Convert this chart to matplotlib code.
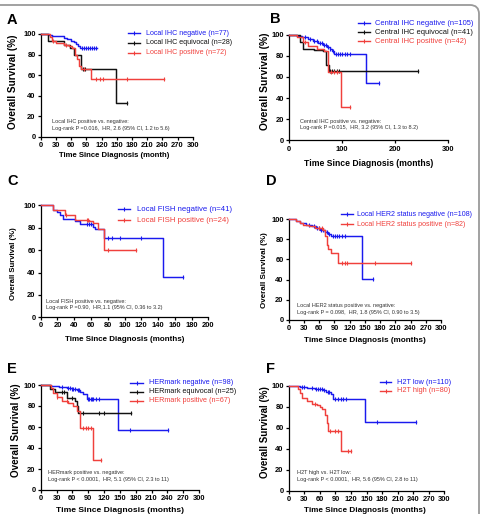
import numpy as np
import matplotlib
matplotlib.use("Agg")
import matplotlib.pyplot as plt
from matplotlib.lines import Line2D
from matplotlib.patches import FancyBboxPatch
from matplotlib.transforms import IdentityTransform

plt.rcParams['font.family'] = ['Liberation Sans', 'DejaVu Sans']

W, H = 487, 514
BLUE = '#1a1aee'
RED = '#f0403c'
BLACK = '#111111'

# ---------------- data (months, % survival) ----------------
# Panel A
a_neg_t = [0, 16, 22, 45, 52, 60, 66, 70, 74, 78, 112]
a_neg_s = [100, 99, 98, 96, 95, 93, 92, 90, 88, 86, 86]
a_neg_c = [82, 86, 90, 94, 98, 102, 106, 110]
a_eq_t = [0, 15, 46, 58, 66, 80, 148, 171]
a_eq_s = [100, 93, 89, 86, 80, 66, 33, 33]
a_eq_c = [84, 88, 171]
a_pos_t = [0, 18, 22, 30, 45, 55, 62, 68, 72, 75, 80, 100, 244]
a_pos_s = [100, 97, 93, 91, 89, 88, 86, 80, 76, 69, 66, 56, 56]
a_pos_c = [25, 50, 85, 110, 117, 123, 170, 244]

# Panel B
b_neg_t = [0, 15, 25, 35, 45, 55, 65, 72, 77, 82, 86, 146, 170]
b_neg_s = [100, 99, 98, 96, 94, 92, 90, 88, 86, 84, 82, 54, 54]
b_neg_c = [30, 40, 48, 52, 58, 62, 66, 70, 74, 78, 84, 88, 92, 96, 100, 105, 110, 115, 170]
b_eq_t = [0, 20, 26, 48, 64, 69, 75, 244]
b_eq_s = [100, 93, 86, 85, 84, 71, 66, 66]
b_eq_c = [78, 82, 86, 90, 95, 244]
b_pos_t = [0, 15, 26, 36, 52, 67, 74, 99, 115]
b_pos_s = [100, 98, 93, 89, 86, 84, 65, 32, 32]
b_pos_c = [30, 80, 85, 90, 115]

# Panel C
c_neg_t = [0, 15, 19, 23, 27, 41, 47, 63, 65, 75, 146, 170]
c_neg_s = [100, 96, 94, 91, 88, 86, 83, 81, 79, 71, 36, 36]
c_neg_c = [55, 58, 60, 62, 80, 85, 95, 120, 170]
c_pos_t = [0, 15, 29, 41, 58, 63, 68, 75, 114]
c_pos_s = [100, 96, 91, 87, 86, 84, 79, 60, 60]
c_pos_c = [30, 55, 57, 80, 114]

# Panel D
d_neg_t = [0, 15, 22, 35, 45, 54, 62, 71, 78, 84, 145, 167]
d_neg_s = [100, 98, 96, 94, 93, 91, 89, 87, 85, 83, 41, 41]
d_neg_c = [40, 50, 56, 60, 64, 68, 72, 76, 80, 88, 92, 96, 100, 105, 110, 167]
d_pos_t = [0, 15, 22, 28, 40, 51, 68, 72, 75, 77, 84, 97, 241]
d_pos_s = [100, 98, 96, 94, 93, 91, 89, 83, 74, 70, 66, 56, 56]
d_pos_c = [60, 65, 105, 110, 115, 170, 241]

# Panel E
e_neg_t = [0, 20, 35, 49, 60, 68, 75, 81, 87, 146, 242]
e_neg_s = [100, 99, 98, 97, 96, 95, 93, 91, 87, 57, 57]
e_neg_c = [40, 52, 56, 60, 62, 65, 70, 72, 90, 92, 95, 97, 100, 105, 110, 170, 242]
e_eq_t = [0, 18, 27, 50, 65, 68, 71, 171]
e_eq_s = [100, 96, 93, 88, 85, 80, 73, 73]
e_eq_c = [40, 45, 60, 75, 80, 110, 120, 171]
e_pos_t = [0, 20, 24, 30, 40, 52, 62, 68, 74, 100, 115]
e_pos_s = [100, 97, 92, 89, 85, 83, 80, 75, 59, 29, 29]
e_pos_c = [30, 50, 80, 85, 90, 95, 115]

# Panel F
f_low_t = [0, 21, 35, 50, 66, 72, 82, 85, 148, 246]
f_low_s = [100, 99, 98, 97, 96, 94, 92, 88, 66, 66]
f_low_c = [25, 30, 45, 52, 56, 60, 64, 68, 75, 78, 90, 95, 100, 105, 110, 170, 246]
f_high_t = [0, 17, 22, 26, 35, 45, 55, 60, 65, 70, 73, 75, 100, 120]
f_high_s = [100, 97, 93, 89, 86, 83, 82, 80, 78, 72, 65, 57, 38, 38]
f_high_c = [50, 80, 90, 95, 115, 120]

fig = plt.figure(figsize=(W / 100, H / 100), dpi=100)


def fx(x):
    return x / W


def fy(y):
    return 1 - y / H


def surv_at(t, s, ct):
    idx = np.searchsorted(t, ct, side='right') - 1
    return np.asarray(s)[idx]


def make_panel(rect, xmax, xstep, curves, legend, leg_geom, leg_fs,
               annot, annot_xy, letter, letter_xy, xlabel, xlab_xy, xlab_fs,
               ylab_xy, ylab_fs):
    l, r, t, b = rect
    ax = fig.add_axes([fx(l), fy(b), (r - l) / W, (b - t) / H])
    for (tt, ss, cc, col) in curves:
        ax.step(tt, ss, where='post', color=col, lw=1.05, clip_on=False, zorder=3)
        ax.plot(cc, surv_at(tt, ss, cc), ls='none', marker='|', ms=2.8,
                mew=0.8, color=col, clip_on=False, zorder=3)
    ax.set_xlim(0, xmax)
    ax.set_ylim(0, 100)
    ax.set_xticks(np.arange(0, xmax + 1, xstep))
    ax.set_yticks(np.arange(0, 101, 20))
    for sp in ['top', 'right']:
        ax.spines[sp].set_visible(False)
    for sp in ['left', 'bottom']:
        ax.spines[sp].set_linewidth(0.9)
    ax.tick_params(direction='out', length=2.5, width=0.9, labelsize=5.4, pad=1.2)
    for lab in ax.get_xticklabels() + ax.get_yticklabels():
        lab.set_fontweight('bold')
    ax.patch.set_alpha(0)
    # legend
    hx0, hx1, tx, y0, dy = leg_geom
    for i, (lab, col) in enumerate(legend):
        yy = y0 + i * dy
        fig.add_artist(Line2D([fx(hx0), fx(hx1)], [fy(yy), fy(yy)], color=col, lw=1.0,
                              transform=fig.transFigure))
        fig.add_artist(Line2D([fx((hx0 + hx1) / 2)], [fy(yy)], color=col, marker='|',
                              ms=2.8, mew=0.8, ls='none', transform=fig.transFigure))
        fig.text(fx(tx), fy(yy), lab, color=col, fontsize=leg_fs, ha='left', va='center')
    # annotation
    ax_, ay_ = annot_xy
    for i, line in enumerate(annot):
        fig.text(fx(ax_), fy(ay_ + i * 7), line, fontsize=4.0, color='#333333',
                 ha='left', va='center')
    fig.text(fx(letter_xy[0]), fy(letter_xy[1]), letter, fontsize=10.5,
             fontweight='bold', ha='left', va='baseline')
    fig.text(fx(xlab_xy[0]), fy(xlab_xy[1]), xlabel, fontsize=xlab_fs,
             fontweight='bold', ha='center', va='center')
    fig.text(fx(ylab_xy[0]), fy(ylab_xy[1]), 'Overall Survival (%)', fontsize=ylab_fs,
             fontweight='bold', ha='center', va='center', rotation=90)
    return ax


make_panel((40.7, 192.7, 34, 136.7), 300, 30,
           [(a_neg_t, a_neg_s, a_neg_c, BLUE), (a_eq_t, a_eq_s, a_eq_c, BLACK),
            (a_pos_t, a_pos_s, a_pos_c, RED)],
           [('Local IHC negative (n=77)', BLUE), ('Local IHC equivocal (n=28)', BLACK),
            ('Local IHC positive (n=72)', RED)],
           (128, 140, 145.7, 33.3, 9.7), 5.1,
           ['Local IHC positive vs. negative:',
            'Log-rank P =0.016,  HR, 2.6 (95% CI, 1.2 to 5.6)'], (51.7, 121.7),
           'A', (7, 24), 'Time Since Diagnosis (month)', (114, 155.5), 5.6,
           (13.3, 81.5), 7.2)

make_panel((289, 447.7, 34.5, 140.5), 300, 100,
           [(b_neg_t, b_neg_s, b_neg_c, BLUE), (b_eq_t, b_eq_s, b_eq_c, BLACK),
            (b_pos_t, b_pos_s, b_pos_c, RED)],
           [('Central IHC negative (n=105)', BLUE), ('Central IHC equivocal (n=41)', BLACK),
            ('Central IHC positive (n=42)', RED)],
           (358, 370, 374.7, 23.3, 8.9), 5.4,
           ['Central IHC positive vs. negative:',
            'Log-rank P =0.015,  HR, 3.2 (95% CI, 1.3 to 8.2)'], (300.3, 121),
           'B', (270, 23.3), 'Time Since Diagnosis (months)', (368.5, 163), 6.2,
           (265, 81.5), 7.4)

make_panel((40.7, 208.3, 205.3, 317.3), 200, 20,
           [(c_neg_t, c_neg_s, c_neg_c, BLUE), (c_pos_t, c_pos_s, c_pos_c, RED)],
           [('Local FISH negative (n=41)', BLUE), ('Local FISH positive (n=24)', RED)],
           (118, 130, 136.7, 209.3, 10.7), 5.6,
           ['Local FISH positive vs. negative:',
            'Log-rank P =0.90,  HR,1.1 (95% CI, 0.36 to 3.2)'], (45.7, 301),
           'C', (7, 185), 'Time Since Diagnosis (months)', (125, 339.5), 5.8,
           (13.3, 263.5), 5.6)

make_panel((288.7, 441, 219, 320), 300, 30,
           [(d_neg_t, d_neg_s, d_neg_c, BLUE), (d_pos_t, d_pos_s, d_pos_c, RED)],
           [('Local HER2 status negative (n=108)', BLUE), ('Local HER2 status positive (n=82)', RED)],
           (340.7, 353, 357.3, 214.3, 10), 5.1,
           ['Local HER2 status positive vs. negative:',
            'Log-rank P = 0.098,  HR, 1.8 (95% CI, 0.90 to 3.5)'], (297.3, 305.3),
           'D', (266, 185), 'Time Since Diagnosis (months)', (364.8, 341), 5.9,
           (265, 270), 5.8)

make_panel((40.7, 199, 385, 490), 300, 30,
           [(e_neg_t, e_neg_s, e_neg_c, BLUE), (e_eq_t, e_eq_s, e_eq_c, BLACK),
            (e_pos_t, e_pos_s, e_pos_c, RED)],
           [('HERmark negative (n=98)', BLUE), ('HERmark equivocal (n=25)', BLACK),
            ('HERmark positive (n=67)', RED)],
           (130, 143.3, 149, 382.7, 9), 5.2,
           ['HERmark positive vs. negative:',
            'Log-rank P < 0.0001,  HR, 5.1 (95% CI, 2.3 to 11)'], (48.3, 472.7),
           'E', (7, 373), 'Time Since Diagnosis (months)', (119.8, 510), 6.1,
           (16.3, 430), 7.1)

make_panel((288.7, 444.3, 386, 490.7), 300, 30,
           [(f_low_t, f_low_s, f_low_c, BLUE), (f_high_t, f_high_s, f_high_c, RED)],
           [('H2T low (n=110)', BLUE), ('H2T high (n=80)', RED)],
           (379.7, 391.3, 397.3, 382.3, 8.7), 5.3,
           ['H2T high vs. H2T low:',
            'Log-rank P < 0.0001,  HR, 5.6 (95% CI, 2.8 to 11)'], (297, 472.7),
           'F', (266, 373), 'Time Since Diagnosis (months)', (364.8, 510), 5.9,
           (265, 432), 7.0)

# rounded outer frame (partly outside the canvas, as in the reference)
frame = FancyBboxPatch((-30, -30), 479 + 30, (H - 5) + 30,
                       boxstyle='round,pad=0,rounding_size=9',
                       transform=IdentityTransform(), fill=False,
                       edgecolor='#9a9a9a', lw=1.3)
fig.add_artist(frame)

fig.savefig('out.png', dpi=100)
